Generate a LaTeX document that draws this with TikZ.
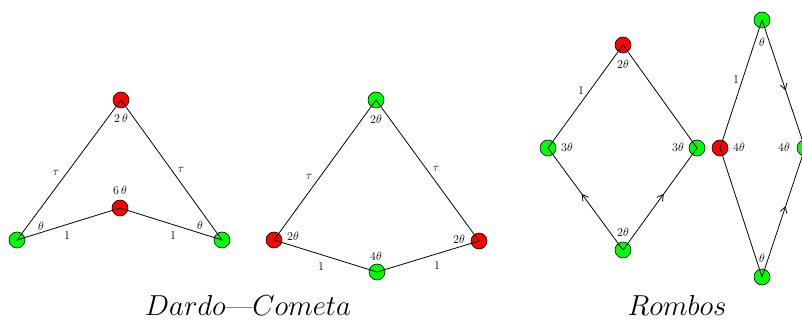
\documentclass[tikz,border=0pt]{standalone}
\usepackage{graphicx}
\usetikzlibrary{arrows.meta,decorations.markings}

\tikzset{
  vert/.style={circle, draw, line width=0.6pt, inner sep=0pt, minimum size=16pt},
  rojo/.style={vert, fill=red},
  verde/.style={vert, fill=green},
  lab/.style={font=\fontsize{12}{13}\selectfont, inner sep=0pt},
  lado/.style={font=\fontsize{12}{13}\selectfont, inner sep=0pt},
  titulo/.style={font=\fontsize{24.88}{30}\selectfont, inner sep=0pt},
  flecha/.style={postaction={decorate}, decoration={markings,
      mark=at position 0.55 with {\arrow{Straight Barb[length=6pt,width=7pt]}}}},
}

\begin{document}
\begin{tikzpicture}[x=1pt, y=-1pt, line width=0.8pt]
    \useasboundingbox (0,0) rectangle (802,320);

    % dardo
    \node[rojo]  (dT) at (121,100) {};
    \node[verde] (dL) at (17,240)  {};
    \node[verde] (dR) at (222,240) {};
    \node[rojo]  (dC) at (120,208) {};
    \draw (dL.center) -- (dT.center) -- (dR.center) -- (dC.center) -- cycle;

    % cometa
    \node[verde] (cT) at (376,100) {};
    \node[rojo]  (cL) at (274,240) {};
    \node[rojo]  (cR) at (479,241) {};
    \node[verde] (cB) at (377,272) {};
    \draw (cL.center) -- (cT.center) -- (cR.center) -- (cB.center) -- cycle;

    % rombo grueso
    \node[rojo]  (gT) at (623,45)  {};
    \node[verde] (gL) at (548,148) {};
    \node[verde] (gR) at (697,148) {};
    \node[verde] (gB) at (623,250) {};
    \draw (gL.center) -- (gT.center) -- (gR.center);
    \draw[flecha] (gB.center) -- (gL.center);
    \draw[flecha] (gB.center) -- (gR.center);

    % rombo fino
    \node[verde] (fT) at (762,20)  {};
    \node[rojo]  (fL) at (720,148) {};
    \node[verde] (fR) at (805,148) {};
    \node[verde] (fB) at (762,277) {};
    \draw (fT.center) -- (fL.center) -- (fB.center);
    \draw[flecha] (fT.center) -- (fR.center);
    \draw[flecha] (fB.center) -- (fR.center);

    % angulos
    \foreach \n/\x/\y/\t in {a1/121/118/{2\,\theta}, a2/120/190/{6\,\theta}, a3/41/226/\theta, a4/200/225/\theta,
                             a5/376/119/{2\theta}, a6/293/236/{2\theta}, a7/459/239/{2\theta}, a8/376/256/{4\theta},
                             a9/623/64/{2\theta}, a10/567/147/{3\theta}, a11/678/147/{3\theta}, a12/623/232/{2\theta},
                             a13/762/42/\theta, a14/739/147/{4\theta}, a15/784/147/{4\theta}, a16/762/258/\theta}
        \node[lab] (\n) at (\x,\y) {$\t$};

    % lados
    \foreach \n/\x/\y/\t in {s1/56/173/\tau, s2/181/170/\tau, s3/67/236/1, s4/173/236/1,
                             s5/309/177/\tau, s6/436/169/\tau, s7/321/267/1, s8/437/266/1,
                             s9/581/91/1, s10/736/80/1}
        \node[lado] (\n) at (\x,\y) {$\t$};

    \node[titulo] (t1) at (248,305) {\scalebox{1.16}{$Dardo$---$Cometa$}};
    \node[titulo] (t2) at (677,305) {\scalebox{1.16}{$Rombos$}};
\end{tikzpicture}
\end{document}
